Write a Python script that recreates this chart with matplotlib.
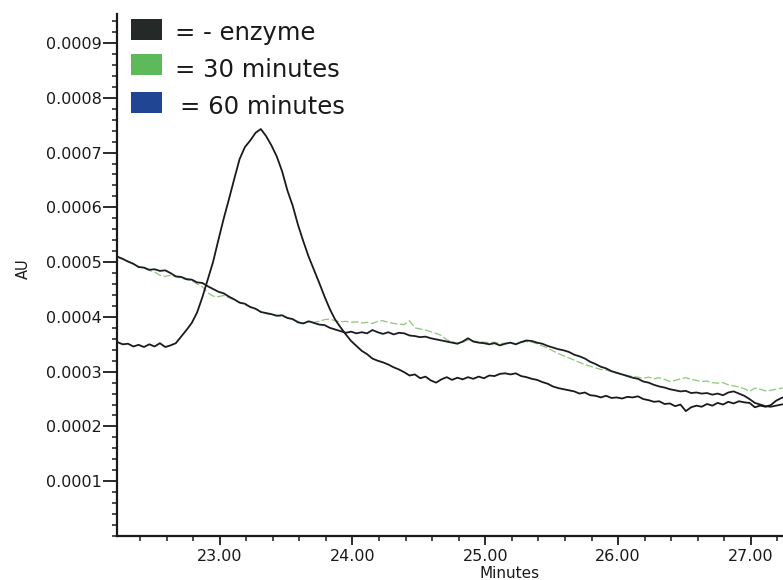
import numpy as np
import matplotlib
matplotlib.use("Agg")
import matplotlib.pyplot as plt
from matplotlib.patches import Rectangle
from matplotlib.ticker import MultipleLocator, FixedLocator, FuncFormatter

# ---- data (AU in units of 1e-4), sampled every 0.04 min from 22.23 ----
t_start = 22.23
t_step = 0.04

no_enzyme = [
    3.54, 3.50, 3.51, 3.46, 3.49, 3.45, 3.50, 3.46, 3.52, 3.45,
    3.48, 3.52, 3.64, 3.76, 3.89, 4.08, 4.36, 4.68, 5.00, 5.40,
    5.79, 6.15, 6.52, 6.88, 7.10, 7.22, 7.36, 7.43, 7.30, 7.13,
    6.93, 6.66, 6.31, 6.03, 5.68, 5.38, 5.10, 4.86, 4.62, 4.37,
    4.14, 3.95, 3.81, 3.68, 3.56, 3.47, 3.38, 3.32, 3.24, 3.20,
    3.17, 3.13, 3.08, 3.04, 2.99, 2.93, 2.95, 2.88, 2.91, 2.84,
    2.80, 2.86, 2.90, 2.85, 2.89, 2.86, 2.90, 2.87, 2.91, 2.88,
    2.93, 2.92, 2.96, 2.97, 2.95, 2.97, 2.92, 2.90, 2.87, 2.85,
    2.81, 2.78, 2.73, 2.70, 2.68, 2.66, 2.64, 2.60, 2.62, 2.57,
    2.56, 2.53, 2.56, 2.52, 2.53, 2.51, 2.54, 2.53, 2.55, 2.50,
    2.48, 2.45, 2.46, 2.41, 2.42, 2.37, 2.40, 2.28, 2.35, 2.38,
    2.36, 2.41, 2.38, 2.43, 2.40, 2.45, 2.42, 2.46, 2.44, 2.43,
    2.35, 2.38, 2.36, 2.39, 2.47, 2.52, 2.55,
]

min30 = [
    5.09, 5.05, 5.02, 4.96, 4.92, 4.89, 4.85, 4.82, 4.76, 4.74,
    4.76, 4.73, 4.71, 4.68, 4.66, 4.60, 4.55, 4.44, 4.38, 4.37,
    4.39, 4.35, 4.31, 4.27, 4.22, 4.19, 4.14, 4.10, 4.06, 4.04,
    4.03, 4.01, 3.99, 3.95, 3.92, 3.89, 3.91, 3.90, 3.92, 3.95,
    3.96, 3.93, 3.91, 3.92, 3.90, 3.91, 3.89, 3.90, 3.88, 3.92,
    3.93, 3.90, 3.88, 3.87, 3.86, 3.93, 3.80, 3.78, 3.76, 3.73,
    3.70, 3.66, 3.58, 3.55, 3.52, 3.54, 3.58, 3.56, 3.55, 3.54,
    3.53, 3.54, 3.51, 3.52, 3.52, 3.51, 3.53, 3.55, 3.54, 3.51,
    3.47, 3.43, 3.38, 3.33, 3.29, 3.25, 3.21, 3.17, 3.13, 3.10,
    3.07, 3.04, 3.03, 3.00, 2.97, 2.95, 2.93, 2.91, 2.90, 2.88,
    2.90, 2.87, 2.89, 2.86, 2.82, 2.84, 2.87, 2.89, 2.86, 2.84,
    2.82, 2.83, 2.80, 2.79, 2.80, 2.76, 2.74, 2.72, 2.69, 2.64,
    2.70, 2.68, 2.65, 2.66, 2.68, 2.70, 2.69,
]

min60 = [
    5.10, 5.06, 5.01, 4.97, 4.91, 4.90, 4.86, 4.87, 4.84, 4.85,
    4.80, 4.74, 4.73, 4.69, 4.68, 4.63, 4.62, 4.56, 4.51, 4.46,
    4.43, 4.37, 4.32, 4.26, 4.24, 4.18, 4.15, 4.09, 4.07, 4.05,
    4.02, 4.03, 3.98, 3.96, 3.90, 3.88, 3.92, 3.89, 3.86, 3.85,
    3.80, 3.77, 3.74, 3.71, 3.73, 3.70, 3.72, 3.70, 3.76, 3.72,
    3.69, 3.72, 3.68, 3.71, 3.70, 3.66, 3.65, 3.63, 3.64, 3.61,
    3.59, 3.57, 3.55, 3.53, 3.51, 3.55, 3.61, 3.55, 3.53, 3.52,
    3.50, 3.52, 3.48, 3.51, 3.53, 3.50, 3.54, 3.57, 3.56, 3.53,
    3.51, 3.47, 3.44, 3.41, 3.39, 3.36, 3.31, 3.28, 3.24, 3.18,
    3.14, 3.09, 3.06, 3.01, 2.98, 2.95, 2.92, 2.89, 2.87, 2.82,
    2.80, 2.76, 2.73, 2.71, 2.68, 2.66, 2.64, 2.65, 2.61, 2.62,
    2.60, 2.61, 2.58, 2.60, 2.57, 2.62, 2.64, 2.60, 2.56, 2.50,
    2.43, 2.40, 2.37, 2.36, 2.38, 2.40, 2.42,
]

legend_labels = ["= - enzyme", "= 30 minutes", "= 60 minutes"]
legend_colors = ["#252927", "#5db95a", "#1f4593"]
x_major = [23, 24, 25, 26, 27]
y_major = [0.0001, 0.0002, 0.0003, 0.0004, 0.0005, 0.0006, 0.0007, 0.0008, 0.0009]

t = t_start + t_step * np.arange(len(no_enzyme))
scale = 1e-4

plt.rcParams['font.family'] = ['DejaVu Sans']
fig = plt.figure(figsize=(7.83, 5.80), dpi=100)
ax = fig.add_axes([117 / 783, 1 - 536 / 580, 1 - 117 / 783, (536 - 14) / 580])

ax.plot(t, np.array(min30) * scale, color="#8cc878", lw=0.9, ls=(0, (6, 2)), zorder=2)
ax.plot(t, np.array(min60) * scale, color="#1b1d22", lw=1.3, zorder=3)
ax.plot(t, np.array(no_enzyme) * scale, color="#1a1a1a", lw=1.3, zorder=4)

ax.set_xlim(22.227, 27.242)
ax.set_ylim(0, 0.000953)

for s in ["top", "right"]:
    ax.spines[s].set_visible(False)
for s in ["left", "bottom"]:
    ax.spines[s].set_linewidth(1.6)
    ax.spines[s].set_color("#1a1a1a")

ax.xaxis.set_major_locator(FixedLocator(x_major))
ax.xaxis.set_minor_locator(MultipleLocator(0.2))
ax.xaxis.set_major_formatter(FuncFormatter(lambda v, p: f"{v:.2f}"))
ax.yaxis.set_major_locator(FixedLocator(y_major))
ax.yaxis.set_minor_locator(MultipleLocator(0.00002))
ax.yaxis.set_major_formatter(FuncFormatter(lambda v, p: f"{v:.4f}"))

ax.tick_params(axis="both", which="major", direction="out", width=1.3,
               labelsize=11.5, color="#1a1a1a", labelcolor="#1a1a1a")
ax.tick_params(axis="both", which="minor", direction="out", length=3.5, width=1.1,
               color="#1a1a1a")
ax.tick_params(axis="y", which="major", length=10, pad=1)
ax.tick_params(axis="x", which="major", length=6.5, pad=3)

ax.set_xlabel("Minutes", fontsize=11, color="#1a1a1a")
ax.xaxis.set_label_coords(0.59, -0.058)
ax.set_ylabel("AU", fontsize=10.5, color="#1a1a1a")
ax.yaxis.set_label_coords(-0.13, 0.513)

# legend: coloured squares with text
sq_x, sq_w, sq_h = 131, 31, 21
sq_tops = [19, 54, 92]
text_x = [175, 175, 180]
text_y = [33, 70, 107]
for lab, col, top, tx, ty in zip(legend_labels, legend_colors, sq_tops, text_x, text_y):
    fig.add_artist(Rectangle((sq_x / 783, 1 - (top + sq_h) / 580), sq_w / 783, sq_h / 580,
                             transform=fig.transFigure, facecolor=col, edgecolor="none"))
    fig.text(tx / 783, 1 - ty / 580, lab, fontsize=17.5, color="#1a1a1a",
             ha="left", va="center")

fig.savefig("out.png", dpi=100)
